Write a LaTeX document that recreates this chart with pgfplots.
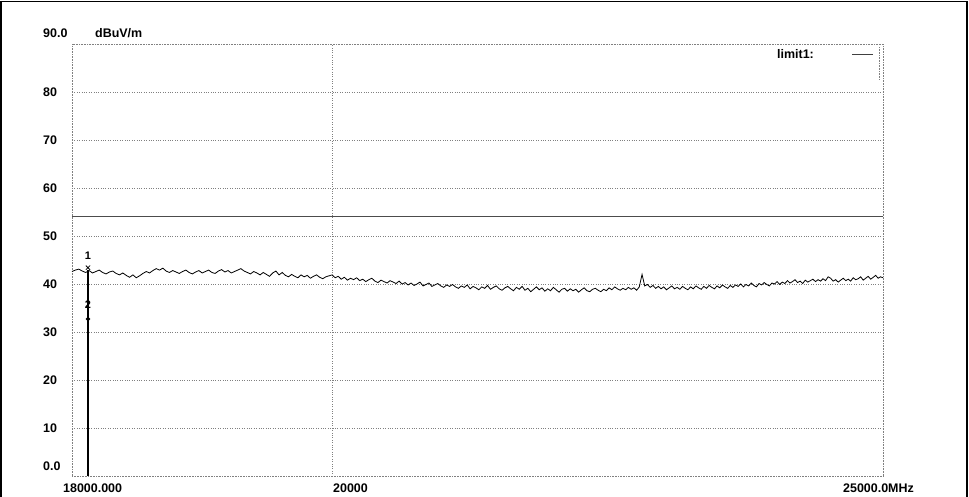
\documentclass[border=0pt]{standalone}
\usepackage{pgfplots}
\pgfplotsset{compat=1.18}
\usepackage{fontspec}
\setmainfont{Liberation Sans}
\newcommand{\lf}{\bfseries\fontsize{12.5}{14}\selectfont}
\begin{document}
\begin{tikzpicture}[font=\lf]
\useasboundingbox (0,0) rectangle (969bp,-497bp);
\draw[line width=1.5bp] (1bp,-497bp) -- (1bp,-1.5bp) -- (967bp,-1.5bp) -- (967bp,-497bp);
\begin{axis}[
  at={(72bp,-44bp)}, anchor=north west,
  width=811bp, height=432bp, scale only axis,
  x coord trafo/.code={\begingroup\pgfkeys{/pgf/fpu=true,/pgf/fpu/output format=fixed}\pgfmathparse{1000*ln(#1/18000)}\xdef\mytrafores{\pgfmathresult}\endgroup\edef\pgfmathresult{\mytrafores}},
  xmin=18000, xmax=25000, ymin=0, ymax=90,
  axis line style={densely dotted, gray, line width=0.6bp},
  xtick={20000}, xticklabels={{}},
  ytick={10,20,30,40,50,60,70,80},
  yticklabels={10,20,30,40,50,60,70,80},
  major tick length=0pt, minor tick length=0pt,
  grid=major, grid style={dotted, gray, line width=0.6bp},
  yticklabel style={anchor=west, inner sep=0pt, xshift=-29bp, font=\lf},
  clip=false,
]
\addplot[gray!60!black, line width=0.7bp] coordinates {(18000,54) (25000,54)};
\addplot[black, line width=0.8bp] coordinates {
(18000,42.6) (18025,42.9) (18050,43.1) (18075,42.7) (18100,42.4) (18125,42.8) (18150,42.3) (18175,42.6) (18200,42.9) (18225,42.4)
(18250,42.1) (18275,42.5) (18300,42.7) (18325,42.2) (18350,41.9) (18375,42.3) (18400,41.8) (18425,41.4) (18450,41.9) (18475,41.3)
(18500,41.7) (18525,42.2) (18550,42.6) (18575,42.3) (18600,42.8) (18625,43.2) (18650,42.9) (18675,43.3) (18700,42.7) (18725,42.4)
(18750,42.8) (18775,42.5) (18800,42.2) (18825,42.6) (18850,42.9) (18875,42.4) (18900,42.1) (18925,42.5) (18950,42.8) (18975,42.3)
(19000,42.6) (19025,42.9) (19050,42.4) (19075,42.2) (19100,42.7) (19125,43.0) (19150,42.5) (19175,42.8) (19200,42.3) (19225,42.6)
(19250,42.9) (19275,43.2) (19300,42.7) (19325,42.4) (19350,42.1) (19375,42.6) (19400,42.3) (19425,41.9) (19450,42.4) (19475,42.0)
(19500,41.6) (19525,42.3) (19550,42.7) (19575,41.9) (19600,42.4) (19625,41.8) (19650,41.5) (19675,42.0) (19700,41.6) (19725,41.3)
(19750,41.9) (19775,41.5) (19800,41.8) (19825,41.2) (19850,41.6) (19875,41.9) (19900,41.4) (19925,41.1) (19950,41.5) (19975,41.7)
(20000,41.9) (20025,41.3) (20050,41.6) (20075,41.0) (20100,41.4) (20125,40.8) (20150,41.2) (20175,40.9) (20200,41.3) (20225,40.7)
(20250,41.0) (20275,40.5) (20300,40.9) (20325,41.2) (20350,40.6) (20375,40.3) (20400,40.8) (20425,40.5) (20450,40.2) (20475,40.7)
(20500,40.4) (20525,40.1) (20550,40.6) (20575,40.0) (20600,40.3) (20625,39.8) (20650,40.2) (20675,39.7) (20700,40.0) (20725,40.4)
(20750,39.6) (20775,39.9) (20800,40.2) (20825,39.5) (20850,39.8) (20875,40.1) (20900,39.6) (20925,39.3) (20950,39.8) (20975,39.5)
(21000,39.9) (21025,39.4) (21050,39.1) (21075,39.6) (21100,39.3) (21125,39.8) (21150,39.0) (21175,39.5) (21200,39.2) (21225,38.8)
(21250,39.4) (21275,39.1) (21300,39.7) (21325,38.9) (21350,39.3) (21375,39.6) (21400,39.0) (21425,38.7) (21450,39.2) (21475,39.5)
(21500,39.0) (21525,38.6) (21550,39.3) (21575,38.9) (21600,39.5) (21625,38.7) (21650,39.1) (21675,38.4) (21700,38.9) (21725,39.4)
(21750,38.8) (21775,39.2) (21800,38.5) (21825,39.0) (21850,38.6) (21875,39.3) (21900,38.8) (21925,38.3) (21950,38.9) (21975,39.1)
(22000,38.5) (22025,39.0) (22050,38.6) (22075,38.9) (22100,38.3) (22125,38.8) (22150,39.2) (22175,38.6) (22200,38.4) (22225,38.9)
(22250,39.1) (22275,38.7) (22300,38.4) (22325,38.9) (22350,38.6) (22375,39.2) (22400,38.8) (22425,39.4) (22450,39.0) (22475,38.7)
(22500,39.1) (22525,38.8) (22550,39.3) (22575,38.9) (22600,39.2) (22625,38.7) (22650,39.4) (22675,42.0) (22700,39.6) (22725,39.9)
(22750,39.3) (22775,39.7) (22800,39.1) (22825,39.5) (22850,39.0) (22875,39.4) (22900,38.8) (22925,39.2) (22950,39.6) (22975,39.0)
(23000,39.3) (23025,38.9) (23050,39.5) (23075,39.1) (23100,38.8) (23125,39.4) (23150,39.0) (23175,39.6) (23200,39.2) (23225,38.9)
(23250,39.5) (23275,39.1) (23300,39.7) (23325,39.3) (23350,39.0) (23375,39.6) (23400,39.2) (23425,39.8) (23450,39.4) (23475,39.1)
(23500,39.7) (23525,39.3) (23550,39.8) (23575,39.5) (23600,40.0) (23625,39.4) (23650,39.9) (23675,39.6) (23700,40.2) (23725,39.7)
(23750,39.4) (23775,40.1) (23800,39.8) (23825,40.3) (23850,39.9) (23875,39.6) (23900,40.2) (23925,40.0) (23950,40.5) (23975,39.9)
(24000,40.4) (24025,40.1) (24050,40.7) (24075,40.2) (24100,40.5) (24125,40.9) (24150,40.3) (24175,40.6) (24200,40.1) (24225,40.8)
(24250,40.4) (24275,40.7) (24300,41.0) (24325,40.5) (24350,40.9) (24375,40.6) (24400,41.1) (24425,40.7) (24450,41.5) (24475,41.2)
(24500,40.6) (24525,40.9) (24550,40.4) (24575,40.8) (24600,41.2) (24625,40.7) (24650,41.0) (24675,40.6) (24700,41.3) (24725,40.9)
(24750,41.1) (24775,41.5) (24800,40.8) (24825,41.2) (24850,41.6) (24875,41.0) (24900,41.4) (24925,41.8) (24950,41.2) (24975,41.5)
(25000,41.3)
};
\addplot[black, line width=1.4bp] coordinates {(18117,0) (18117,43.0)};
\addplot[only marks, mark=x, mark size=3bp, black, line width=0.8bp] coordinates {(18117,43.4)};
\addplot[only marks, mark=o, mark size=1.8bp, black, line width=0.8bp] coordinates {(18117,32.7)};
\node[inner sep=0pt, font=\bfseries\fontsize{11}{12}\selectfont] at (axis cs:18117,45.8) {1};
\node[inner sep=0pt, font=\bfseries\fontsize{11}{12}\selectfont] at (axis cs:18117,35.6) {2};
\end{axis}
\node[anchor=west, inner sep=0pt] at (43bp,-33bp) {90.0};
\node[anchor=west, inner sep=0pt] at (95bp,-33bp) {dBuV/m};
\node[anchor=west, inner sep=0pt] at (43bp,-466bp) {0.0};
\node[anchor=west, inner sep=0pt] at (63bp,-488bp) {18000.000};
\node[anchor=west, inner sep=0pt] at (333bp,-488bp) {20000};
\node[anchor=west, inner sep=0pt] at (843bp,-488bp) {25000.0MHz};
\node[anchor=west, inner sep=0pt] at (777bp,-54bp) {limit1:};
\draw[gray!50!black, line width=0.8bp] (852bp,-54bp) -- (873bp,-54bp);
\draw[densely dotted, gray, line width=0.6bp] (879bp,-47bp) -- (879bp,-80bp);
\end{tikzpicture}
\end{document}
